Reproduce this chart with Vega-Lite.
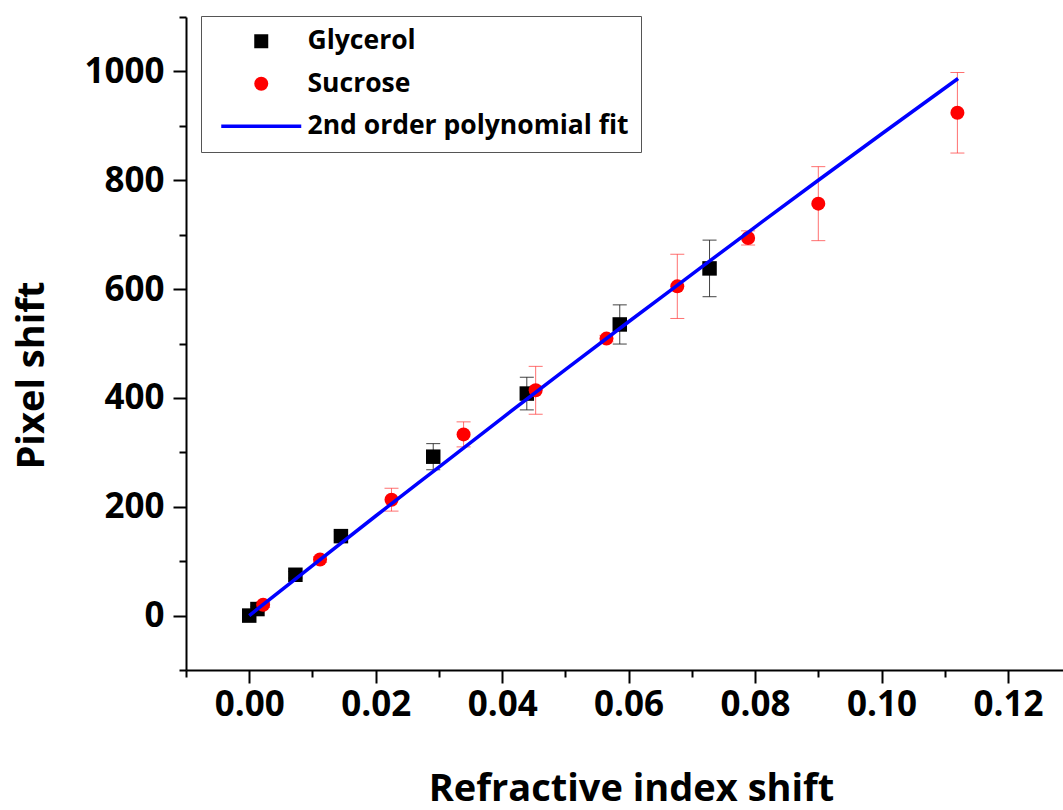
{
  "$schema": "https://vega.github.io/schema/vega-lite/v6.json",
  "width": 877,
  "height": 653,
  "autosize": "none",
  "padding": {"left": 186, "top": 17, "right": 0, "bottom": 140},
  "background": "white",
  "config": {
    "view": {"stroke": null},
    "font": "Open Sans",
    "axis": {
      "domainColor": "#000000",
      "domainWidth": 2,
      "tickColor": "#000000",
      "tickWidth": 2,
      "grid": false,
      "labelFont": "Open Sans",
      "labelFontWeight": "bold",
      "labelColor": "#000000",
      "labelFontSize": 35,
      "labelOverlap": false,
      "labelFlush": false,
      "titleFont": "Open Sans",
      "titleFontWeight": "bold",
      "titleColor": "#000000",
      "titleFontSize": 38
    }
  },
  "datasets": {
    "measurements": [
      {"series": "Glycerol", "dn": 0.0, "shift": 0, "err": 0},
      {"series": "Glycerol", "dn": 0.0013, "shift": 12, "err": 4},
      {"series": "Glycerol", "dn": 0.0073, "shift": 75, "err": 6},
      {"series": "Glycerol", "dn": 0.0145, "shift": 146, "err": 8},
      {"series": "Glycerol", "dn": 0.0291, "shift": 292, "err": 24},
      {"series": "Glycerol", "dn": 0.0439, "shift": 408, "err": 30},
      {"series": "Glycerol", "dn": 0.0586, "shift": 535, "err": 36},
      {"series": "Glycerol", "dn": 0.0728, "shift": 638, "err": 52},
      {"series": "Sucrose", "dn": 0.0022, "shift": 20, "err": 5},
      {"series": "Sucrose", "dn": 0.0112, "shift": 103, "err": 5},
      {"series": "Sucrose", "dn": 0.0225, "shift": 213, "err": 21},
      {"series": "Sucrose", "dn": 0.0339, "shift": 333, "err": 23},
      {"series": "Sucrose", "dn": 0.0453, "shift": 414, "err": 44},
      {"series": "Sucrose", "dn": 0.0565, "shift": 509, "err": 6},
      {"series": "Sucrose", "dn": 0.0677, "shift": 605, "err": 59},
      {"series": "Sucrose", "dn": 0.0789, "shift": 694, "err": 13},
      {"series": "Sucrose", "dn": 0.09, "shift": 757, "err": 68},
      {"series": "Sucrose", "dn": 0.112, "shift": 924, "err": 74}
    ],
    "fit": [
      {"series": "2nd order polynomial fit", "dn": 0.0, "shift": 0},
      {"series": "2nd order polynomial fit", "dn": 0.01, "shift": 92},
      {"series": "2nd order polynomial fit", "dn": 0.02, "shift": 183},
      {"series": "2nd order polynomial fit", "dn": 0.03, "shift": 273},
      {"series": "2nd order polynomial fit", "dn": 0.04, "shift": 363},
      {"series": "2nd order polynomial fit", "dn": 0.05, "shift": 452},
      {"series": "2nd order polynomial fit", "dn": 0.06, "shift": 540},
      {"series": "2nd order polynomial fit", "dn": 0.07, "shift": 627},
      {"series": "2nd order polynomial fit", "dn": 0.08, "shift": 714},
      {"series": "2nd order polynomial fit", "dn": 0.09, "shift": 800},
      {"series": "2nd order polynomial fit", "dn": 0.1, "shift": 885},
      {"series": "2nd order polynomial fit", "dn": 0.1121, "shift": 987}
    ]
  },
  "encoding": {
    "x": {
      "field": "dn",
      "type": "quantitative",
      "scale": {"domain": [-0.01, 0.1287], "nice": false, "zero": false},
      "axis": {
        "title": "Refractive index shift",
        "values": [-0.01, 0, 0.01, 0.02, 0.03, 0.04, 0.05, 0.06, 0.07, 0.08, 0.09, 0.1, 0.11, 0.12],
        "labelExpr": "round(datum.value * 100) % 2 === 0 && datum.value >= 0 ? format(datum.value, '.2f') : ''",
        "tickSize": {"condition": {"test": "round(datum.value * 100) % 2 === 0", "value": 13}, "value": 7},
        "labelPadding": 4,
        "titleX": 445,
        "titleY": 130,
        "titleAlign": "center",
        "titleBaseline": "alphabetic"
      }
    },
    "y": {
      "field": "shift",
      "type": "quantitative",
      "scale": {"domain": [-100, 1100], "nice": false, "zero": false},
      "axis": {
        "title": "Pixel shift",
        "values": [-100, 0, 100, 200, 300, 400, 500, 600, 700, 800, 900, 1000, 1100],
        "labelExpr": "round(datum.value / 100) % 2 === 0 && datum.value >= 0 && datum.value <= 1000 ? format(datum.value, 'd') : ''",
        "tickSize": {"condition": {"test": "round(datum.value / 100) % 2 === 0", "value": 13}, "value": 7},
        "labelPadding": 9,
        "titleX": -143,
        "titleY": 358,
        "titleAlign": "center",
        "titleBaseline": "alphabetic"
      }
    }
  },
  "layer": [
    {
      "data": {"name": "measurements"},
      "transform": [{"filter": "datum.series === 'Glycerol' && datum.err > 0"}],
      "mark": {"type": "errorbar", "ticks": {"size": 14, "thickness": 1}, "thickness": 1, "color": "#222222", "opacity": 0.85},
      "encoding": {"yError": {"field": "err"}}
    },
    {
      "data": {"name": "measurements"},
      "transform": [{"filter": "datum.series === 'Sucrose' && datum.err > 0"}],
      "mark": {"type": "errorbar", "ticks": {"size": 14, "thickness": 1}, "thickness": 1, "color": "#ff4040", "opacity": 0.75},
      "encoding": {"yError": {"field": "err"}}
    },
    {
      "data": {"name": "measurements"},
      "transform": [{"filter": "datum.series === 'Glycerol'"}],
      "mark": {"type": "square", "size": 210, "opacity": 1},
      "encoding": {
        "color": {
          "field": "series",
          "type": "nominal",
          "scale": {"domain": ["Glycerol", "Sucrose", "2nd order polynomial fit"], "range": ["#000000", "#ff0000", "#0000ff"]},
          "legend": {
            "title": null,
            "orient": "none",
            "legendX": 15,
            "legendY": -1,
            "symbolSize": 196,
            "symbolOffset": 35,
            "labelOffset": 33,
            "labelFont": "Open Sans",
            "labelFontWeight": "bold",
            "labelFontSize": 26.5,
            "labelColor": "#000000",
            "labelLimit": 0,
            "padding": 12,
            "rowPadding": 15.5,
            "strokeColor": "#555555",
            "fillColor": "white",
            "encoding": {
              "symbols": {
                "shape": {"value": {"expr": "datum.value === 'Glycerol' ? 'square' : datum.value === 'Sucrose' ? 'circle' : 'stroke'"}},
                "size": {"value": {"expr": "datum.value === '2nd order polynomial fit' ? 6400 : 196"}},
                "fill": {"value": {"expr": "scale('color', datum.value)"}},
                "fillOpacity": {"value": 1},
                "opacity": {"value": 1},
                "stroke": {"value": {"expr": "scale('color', datum.value)"}},
                "strokeWidth": {"value": {"expr": "datum.value === '2nd order polynomial fit' ? 3.5 : 0"}}
              }
            }
          }
        }
      }
    },
    {
      "data": {"name": "measurements"},
      "transform": [{"filter": "datum.series === 'Sucrose'"}],
      "mark": {"type": "circle", "size": 196, "opacity": 1},
      "encoding": {"color": {"field": "series", "type": "nominal"}}
    },
    {
      "data": {"name": "fit"},
      "mark": {"type": "line", "strokeWidth": 3.5, "interpolate": "monotone"},
      "encoding": {"color": {"field": "series", "type": "nominal"}}
    }
  ]
}
